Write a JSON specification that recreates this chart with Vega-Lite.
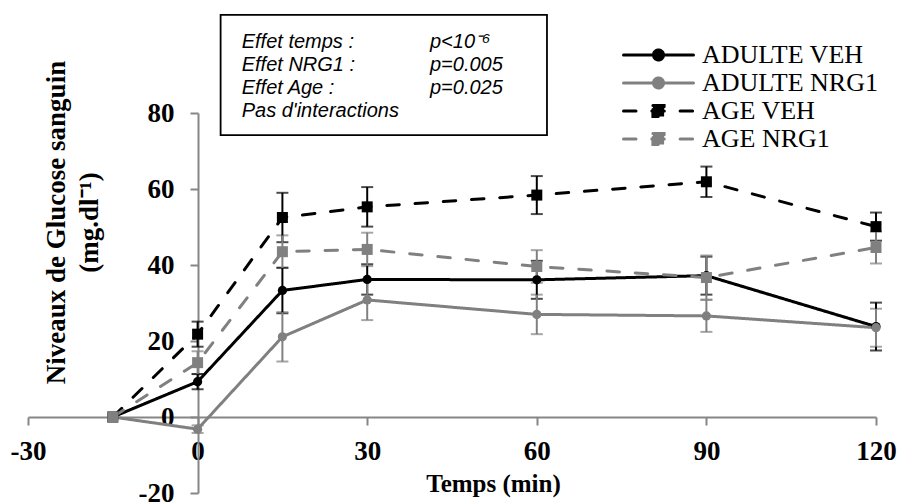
{
  "$schema": "https://vega.github.io/schema/vega-lite/v6.json",
  "width": 848,
  "height": 380,
  "autosize": {"type": "none"},
  "padding": {"left": 28, "top": 113, "right": 21, "bottom": 9},
  "background": "white",
  "config": {"view": {"stroke": null}, "font": "Liberation Serif"},
  "datasets": {
    "glucose": [
      {"series": "ADULTE VEH", "t": -15, "mean": 0, "err": 0},
      {"series": "ADULTE VEH", "t": 0, "mean": 9.3, "err": 2},
      {"series": "ADULTE VEH", "t": 15, "mean": 33.3, "err": 6},
      {"series": "ADULTE VEH", "t": 30, "mean": 36.2, "err": 4},
      {"series": "ADULTE VEH", "t": 60, "mean": 36.1, "err": 5},
      {"series": "ADULTE VEH", "t": 90, "mean": 37.2, "err": 5},
      {"series": "ADULTE VEH", "t": 120, "mean": 23.8, "err": 6.3},
      {"series": "ADULTE NRG1", "t": -15, "mean": 0, "err": 0},
      {"series": "ADULTE NRG1", "t": 0, "mean": -3.2, "err": 1},
      {"series": "ADULTE NRG1", "t": 15, "mean": 21.1, "err": 6.5},
      {"series": "ADULTE NRG1", "t": 30, "mean": 30.8, "err": 5.3},
      {"series": "ADULTE NRG1", "t": 60, "mean": 27.0, "err": 5.2},
      {"series": "ADULTE NRG1", "t": 90, "mean": 26.6, "err": 4.2},
      {"series": "ADULTE NRG1", "t": 120, "mean": 23.5, "err": 5},
      {"series": "AGE VEH", "t": -15, "mean": 0, "err": 0},
      {"series": "AGE VEH", "t": 0, "mean": 21.8, "err": 3.3},
      {"series": "AGE VEH", "t": 15, "mean": 52.5, "err": 6.5},
      {"series": "AGE VEH", "t": 30, "mean": 55.3, "err": 5.2},
      {"series": "AGE VEH", "t": 60, "mean": 58.4, "err": 5},
      {"series": "AGE VEH", "t": 90, "mean": 61.9, "err": 4},
      {"series": "AGE VEH", "t": 120, "mean": 50.1, "err": 3.7},
      {"series": "AGE NRG1", "t": -15, "mean": 0, "err": 0},
      {"series": "AGE NRG1", "t": 0, "mean": 14.3, "err": 3},
      {"series": "AGE NRG1", "t": 15, "mean": 43.5, "err": 4.3},
      {"series": "AGE NRG1", "t": 30, "mean": 44.1, "err": 4.4},
      {"series": "AGE NRG1", "t": 60, "mean": 39.6, "err": 4.3},
      {"series": "AGE NRG1", "t": 90, "mean": 36.7, "err": 5.8},
      {"series": "AGE NRG1", "t": 120, "mean": 44.6, "err": 4.2}
    ],
    "notes": [
      {"part": "box", "t": 4.07, "t2": 61.8, "mean": 74.2, "mean2": 105.8},
      {"part": "labels", "t": 7.8, "mean": 97.1, "txt": "Effet temps :\nEffet NRG1 :\nEffet Age :\nPas d'interactions"},
      {"part": "pvals", "t": 41.1, "mean": 97.1, "txt": "p<10⁻⁶\np=0.005\np=0.025"}
    ]
  },
  "encoding": {
    "x": {
      "field": "t", "type": "quantitative",
      "scale": {"domain": [-30, 120], "nice": false, "zero": false},
      "axis": {
        "values": [-30, 0, 30, 60, 90, 120], "offset": -76, "grid": false,
        "title": "Temps (min)", "titleFont": "Liberation Serif", "titleFontSize": 25, "titleFontWeight": "bold", "titleColor": "black",
        "titleX": 465, "titleY": 66, "titleBaseline": "middle", "titleAlign": "center",
        "labelFont": "Liberation Serif", "labelFontSize": 27, "labelFontWeight": "bold", "labelColor": "black",
        "labelPadding": 13, "labelFlush": false, "labelOverlap": false, "labelExpr": "'' + datum.value",
        "tickSize": 8, "tickColor": "#868686", "tickWidth": 2, "domainColor": "#868686", "domainWidth": 2
      }
    },
    "y": {
      "field": "mean", "type": "quantitative",
      "scale": {"domain": [-20, 80], "nice": false, "zero": false},
      "axis": {
        "values": [-20, 0, 20, 40, 60, 80], "offset": -170, "grid": false,
        "title": ["Niveaux de Glucose sanguin", "(mg.dl⁻¹)"],
        "titleFont": "Liberation Serif", "titleFontSize": 27, "titleFontWeight": "bold", "titleColor": "black",
        "titleX": -142, "titleY": 109, "titleAngle": -90, "titleBaseline": "middle", "titleAlign": "center", "titleLineHeight": 33,
        "labelFont": "Liberation Serif", "labelFontSize": 27, "labelFontWeight": "bold", "labelColor": "black",
        "labelPadding": 16, "labelOverlap": false, "labelExpr": "'' + datum.value",
        "tickSize": 8, "tickColor": "#868686", "tickWidth": 2, "domainColor": "#868686", "domainWidth": 2
      }
    }
  },
  "layer": [
    {
      "data": {"name": "glucose"},
      "transform": [{"filter": "datum.err > 0"}],
      "mark": {"type": "errorbar", "thickness": 2, "ticks": {"size": 12, "thickness": 2}},
      "encoding": {
        "yError": {"field": "err"},
        "detail": {"field": "series"},
        "color": {"condition": {"test": "datum.series === 'ADULTE NRG1' || datum.series === 'AGE NRG1'", "value": "#808080"}, "value": "#000000"}
      }
    },
    {
      "data": {"name": "glucose"},
      "mark": {"type": "line", "strokeWidth": 3, "strokeCap": "round"},
      "encoding": {
        "color": {
          "field": "series", "type": "nominal",
          "scale": {"domain": ["ADULTE VEH", "ADULTE NRG1", "AGE VEH", "AGE NRG1"], "range": ["#000000", "#808080", "#000000", "#808080"]},
          "legend": {
            "title": null, "orient": "none", "legendX": 594, "legendY": -72, "padding": 0,
            "symbolType": "stroke", "symbolSize": 4900, "symbolStrokeWidth": 3, "clipHeight": 28, "rowPadding": 0,
            "labelFont": "Liberation Serif", "labelFontSize": 26, "labelColor": "black", "labelOffset": 7, "labelLimit": 400,
            "encode": {"symbols": {"update": {
              "shape": {"signal": "(datum.value === 'AGE VEH' || datum.value === 'AGE NRG1') ? 'M-1,0H1M-0.16,-0.16H0.16V0.16H-0.16Z' : 'M-1,0H1M-0.143,0A0.143,0.143,0,1,0,0.143,0A0.143,0.143,0,1,0,-0.143,0Z'"},
              "fill": {"signal": "(datum.value === 'ADULTE NRG1' || datum.value === 'AGE NRG1') ? '#808080' : '#000000'"},
              "strokeCap": {"value": "round"},
              "opacity": {"value": 1}
            }}}
          }
        },
        "strokeDash": {
          "field": "series", "type": "nominal",
          "scale": {"domain": ["ADULTE VEH", "ADULTE NRG1", "AGE VEH", "AGE NRG1"], "range": [[1, 0], [1, 0], [12.5, 15.8], [12.5, 15.8]]},
          "legend": {
            "title": null, "orient": "none", "legendX": 594, "legendY": -72, "padding": 0,
            "symbolType": "stroke", "symbolSize": 4900, "symbolStrokeWidth": 3, "clipHeight": 28, "rowPadding": 0,
            "labelFont": "Liberation Serif", "labelFontSize": 26, "labelColor": "black", "labelOffset": 7, "labelLimit": 400,
            "encode": {"symbols": {"update": {
              "shape": {"signal": "(datum.value === 'AGE VEH' || datum.value === 'AGE NRG1') ? 'M-1,0H1M-0.16,-0.16H0.16V0.16H-0.16Z' : 'M-1,0H1M-0.143,0A0.143,0.143,0,1,0,0.143,0A0.143,0.143,0,1,0,-0.143,0Z'"},
              "fill": {"signal": "(datum.value === 'ADULTE NRG1' || datum.value === 'AGE NRG1') ? '#808080' : '#000000'"},
              "strokeCap": {"value": "round"},
              "opacity": {"value": 1}
            }}}
          }
        }
      }
    },
    {
      "data": {"name": "glucose"},
      "mark": {"type": "point", "filled": true, "opacity": 1, "strokeWidth": 0},
      "encoding": {
        "color": {"condition": {"test": "datum.series === 'ADULTE NRG1' || datum.series === 'AGE NRG1'", "value": "#808080"}, "value": "#000000"},
        "shape": {"condition": {"test": "datum.series === 'AGE VEH' || datum.series === 'AGE NRG1'", "value": "square"}, "value": "circle"},
        "size": {"condition": {"test": "datum.series === 'AGE VEH' || datum.series === 'AGE NRG1'", "value": 121}, "value": 85}
      }
    },
    {
      "data": {"name": "notes"},
      "transform": [{"filter": "datum.part === 'box'"}],
      "mark": {"type": "rect", "fill": "white", "stroke": "black", "strokeWidth": 1.8},
      "encoding": {
        "x2": {"field": "t2"},
        "y2": {"field": "mean2"}
      }
    },
    {
      "data": {"name": "notes"},
      "transform": [{"filter": "datum.part !== 'box'"}],
      "mark": {"type": "text", "align": "left", "baseline": "alphabetic", "lineBreak": "\n", "lineHeight": 23, "font": "Liberation Sans", "fontStyle": "italic", "fontSize": 20, "color": "black"},
      "encoding": {
        "text": {"field": "txt"}
      }
    }
  ]
}
